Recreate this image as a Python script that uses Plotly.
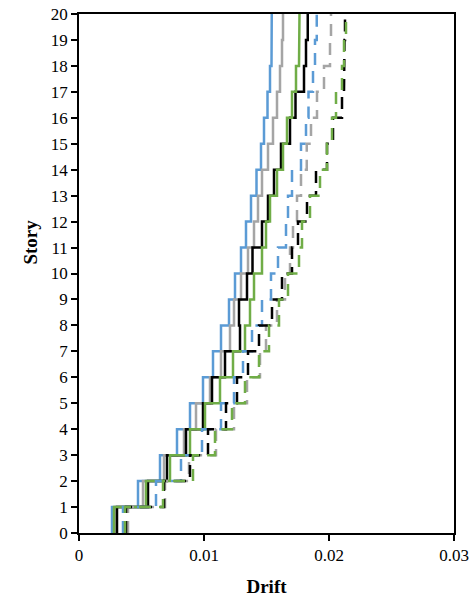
import plotly.graph_objects as go

# Story numbers (each story spans from k-1 to k)
stories = list(range(1, 21))

# Inter-story drift per story, solid-line cases
drift_blue = [0.00264, 0.00472, 0.00648, 0.00784, 0.00888, 0.00992, 0.01072, 0.01136, 0.01200, 0.01248,
              0.01296, 0.01336, 0.01376, 0.01420, 0.01456, 0.01480, 0.01508, 0.01528, 0.01540, 0.01542]
drift_gray = [0.00288, 0.00512, 0.00680, 0.00840, 0.00936, 0.01048, 0.01136, 0.01208, 0.01240, 0.01296,
              0.01352, 0.01400, 0.01432, 0.01464, 0.01512, 0.01552, 0.01584, 0.01608, 0.01624, 0.01632]
drift_black = [0.00304, 0.00552, 0.00704, 0.00856, 0.00992, 0.01064, 0.01168, 0.01288, 0.01280, 0.01344,
               0.01388, 0.01464, 0.01512, 0.01560, 0.01616, 0.01688, 0.01732, 0.01800, 0.01816, 0.01830]
drift_green = [0.00280, 0.00536, 0.00728, 0.00888, 0.01008, 0.01128, 0.01232, 0.01328, 0.01368, 0.01400,
               0.01464, 0.01496, 0.01528, 0.01584, 0.01632, 0.01664, 0.01704, 0.01736, 0.01760, 0.01764]

# Inter-story drift per story, dashed-line cases
drift_blue_d = [0.00352, 0.00616, 0.00816, 0.00984, 0.01136, 0.01240, 0.01312, 0.01384, 0.01464, 0.01536,
                0.01592, 0.01656, 0.01672, 0.01704, 0.01776, 0.01816, 0.01836, 0.01872, 0.01888, 0.01902]
drift_gray_d = [0.00392, 0.00688, 0.00880, 0.01096, 0.01240, 0.01344, 0.01448, 0.01496, 0.01584, 0.01648,
                0.01688, 0.01712, 0.01744, 0.01776, 0.01822, 0.01856, 0.01904, 0.01960, 0.02008, 0.02016]
drift_black_d = [0.00376, 0.00680, 0.00888, 0.01032, 0.01176, 0.01264, 0.01352, 0.01440, 0.01544, 0.01624,
                 0.01704, 0.01752, 0.01824, 0.01896, 0.01984, 0.02032, 0.02104, 0.02120, 0.02124, 0.02128]
drift_green_d = [0.00368, 0.00672, 0.00912, 0.01088, 0.01224, 0.01328, 0.01440, 0.01520, 0.01600, 0.01672,
                 0.01760, 0.01784, 0.01848, 0.01928, 0.01984, 0.02024, 0.02056, 0.02104, 0.02120, 0.02136]

x_ticks = [0, 0.01, 0.02, 0.03]
x_tick_labels = ["0", "0.01", "0.02", "0.03"]
y_ticks = list(range(0, 21))

series = [
    (drift_blue, "#5B9BD5", "solid"),
    (drift_gray, "#A5A5A5", "solid"),
    (drift_black, "#000000", "solid"),
    (drift_green, "#70AD47", "solid"),
    (drift_blue_d, "#5B9BD5", "12px,8px"),
    (drift_gray_d, "#A5A5A5", "12px,8px"),
    (drift_black_d, "#000000", "12px,8px"),
    (drift_green_d, "#70AD47", "12px,8px"),
]


def step_profile(values):
    """Vertical segment per story at its drift, joined by horizontals at floor levels."""
    xs, ys = [], []
    for k, v in zip(stories, values):
        xs += [v, v]
        ys += [k - 1, k]
    return xs, ys


fig = go.Figure()
for vals, color, dash in series:
    xs, ys = step_profile(vals)
    fig.add_trace(go.Scatter(x=xs, y=ys, mode="lines",
                             line=dict(color=color, width=2.5, dash=dash),
                             showlegend=False, hoverinfo="skip"))

font_serif = "Liberation Serif, Times New Roman, serif"

fig.update_layout(
    width=475, height=599,
    margin=dict(l=79, r=21, t=14, b=66),
    paper_bgcolor="white", plot_bgcolor="white",
    font=dict(family=font_serif, size=17, color="#000000"),
    showlegend=False,
    xaxis=dict(
        range=[0, 0.03], tickvals=x_ticks, ticktext=x_tick_labels,
        showgrid=False, zeroline=False, automargin=False,
        showline=True, linecolor="black", linewidth=1.5, mirror=True,
        ticks="outside", ticklen=6, tickcolor="black", tickwidth=1.5,
        tickfont=dict(family=font_serif, size=17),
        title=dict(text="<b>Drift</b>", font=dict(family=font_serif, size=19), standoff=16),
    ),
    yaxis=dict(
        range=[0, 20], tickvals=y_ticks,
        showgrid=False, zeroline=False, automargin=False,
        showline=True, linecolor="black", linewidth=1.5, mirror=True,
        ticks="outside", ticklen=6, tickcolor="black", tickwidth=1.5,
        tickfont=dict(family=font_serif, size=17),
    ),
    annotations=[dict(
        text="<b>Story</b>", textangle=-90, showarrow=False,
        xref="paper", yref="paper", x=-0.13, y=0.56,
        xanchor="center", yanchor="middle",
        font=dict(family=font_serif, size=19),
    )],
)

fig.write_html("out.html")
